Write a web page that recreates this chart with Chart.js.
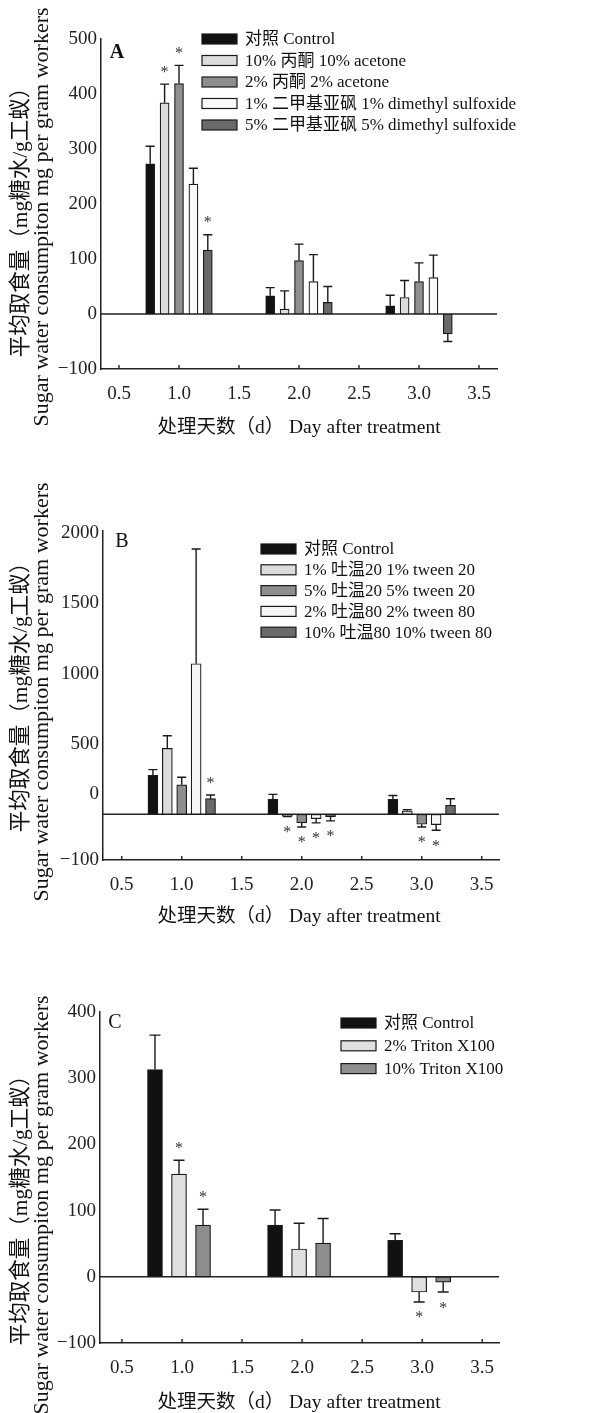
<!DOCTYPE html>
<html>
<head>
<meta charset="utf-8">
<script src="https://cdn.jsdelivr.net/npm/chart.js@4.4.0/dist/chart.umd.min.js"></script>
<style>
body{margin:0;background:#fff}
#wrap{position:relative;width:604px;height:1413px;background:#fff}
canvas{position:absolute;left:0}
</style>
</head>
<body>
<div id="wrap">
<canvas id="chartA" width="604" height="460" style="top:0"></canvas>
<canvas id="chartB" width="604" height="470" style="top:470px"></canvas>
<canvas id="chartC" width="604" height="463" style="top:950px"></canvas>
</div>
<script>
var days = [1, 2, 3];
var xTickVals = [0.5, 1, 1.5, 2, 2.5, 3, 3.5];
var xTickLabels = ['0.5', '1.0', '1.5', '2.0', '2.5', '3.0', '3.5'];
var yTitle = ['平均取食量（mg糖水/g工蚁）', 'Sugar water consumpiton mg per gram workers'];
var xTitle = '处理天数（d） Day after treatment';

// A - acetone / DMSO
var namesA = ['对照 Control', '10% 丙酮 10% acetone', '2% 丙酮 2% acetone', '1% 二甲基亚砜 1% dimethyl sulfoxide', '5% 二甲基亚砜 5% dimethyl sulfoxide'];
var ctrlA = [273, 33, 15],   errCtrlA = [32, 15, 19];
var acet10A = [384, 9, 30],  errAcet10A = [34, 33, 31];
var acet2A = [419, 97, 59],  errAcet2A = [33, 30, 34];
var dmso1A = [236, 59, 66],  errDmso1A = [29, 49, 41];
var dmso5A = [116, 21, -36], errDmso5A = [28, 29, 14];
var sigA = [[0,0,0],[1,0,0],[1,0,0],[0,0,0],[1,0,0]];
var yTickValsA = [-100, 0, 100, 200, 300, 400, 500];
var yTickLabelsA = ['−100', '0', '100', '200', '300', '400', '500'];

// B - tween
var namesB = ['对照 Control', '1% 吐温20 1% tween 20', '5% 吐温20 5% tween 20', '2% 吐温80 2% tween 80', '10% 吐温80 10% tween 80'];
var ctrlB = [278, 106, 106],   errCtrlB = [40, 36, 28];
var tw20aB = [469, -14, 25],   errTw20aB = [90, 2, 8];
var tw20bB = [210, -61, -71],  errTw20bB = [54, 29, 19];
var tw80aB = [1071, -31, -73], errTw80aB = [816, 30, 40];
var tw80bB = [111, -19, 64],   errTw80bB = [26, 28, 47];
var sigB = [[0,0,0],[0,1,0],[0,1,1],[0,1,1],[1,1,0]];
var yTickValsB = [-325, 146, 500, 1000, 1500, 2000];
var yTickLabelsB = ['−100', '0', '500', '1000', '1500', '2000'];

// C - triton
var namesC = ['对照 Control', '2% Triton X100', '10% Triton X100'];
var ctrlC = [313, 78, 55],    errCtrlC = [52, 23, 10];
var tri2C = [155, 42, -23],   errTri2C = [21, 39, 15];
var tri10C = [78, 51, -8],    errTri10C = [24, 37, 15];
var sigC = [[0,0,0],[1,0,1],[1,0,1]];
var yTickValsC = [-100, 0, 100, 200, 300, 400];
var yTickLabelsC = ['−100', '0', '100', '200', '300', '400'];

var serif = "'Liberation Serif', 'Noto Sans CJK SC', serif";

function makePanel(id, names, vals, errs, sigs, colors, offs, yVals, yLabels, lay) {
    var datasets = names.map(function(n, i) {
        return {
            label: n,
            data: days.map(function(d, j) { return {x: d + offs[i], y: vals[i][j]}; }),
            err: errs[i],
            sig: sigs[i],
            backgroundColor: colors[i],
            borderColor: '#1a1a1a',
            borderWidth: 1.2,
            borderSkipped: false,
            grouped: false,
            barThickness: lay.bw
        };
    });

    var decor = {
        id: 'decor' + id,
        beforeDatasetsDraw: function(chart) {
            var c = chart.ctx, a = chart.chartArea;
            var y0 = chart.scales.y.getPixelForValue(0);
            c.save();
            c.strokeStyle = '#222';
            c.lineWidth = 1.4;
            c.beginPath();
            c.moveTo(a.left, y0); c.lineTo(a.right, y0);
            xTickVals.forEach(function(v) {
                var px = chart.scales.x.getPixelForValue(v);
                c.moveTo(px, a.bottom); c.lineTo(px, a.bottom - 4);
            });
            c.stroke();
            c.restore();
        },
        afterDatasetsDraw: function(chart) {
            var c = chart.ctx, ys = chart.scales.y;
            c.save();
            c.strokeStyle = '#1a1a1a';
            c.lineWidth = 1.4;
            c.fillStyle = '#3a3328';
            c.font = '16px ' + serif;
            c.textAlign = 'center';
            chart.data.datasets.forEach(function(ds, i) {
                chart.getDatasetMeta(i).data.forEach(function(bar, j) {
                    var v = ds.data[j].y, e = ds.err[j];
                    var tip = ys.getPixelForValue(v >= 0 ? v + e : v - e);
                    c.beginPath();
                    c.moveTo(bar.x, bar.y); c.lineTo(bar.x, tip);
                    c.moveTo(bar.x - lay.cap / 2, tip); c.lineTo(bar.x + lay.cap / 2, tip);
                    c.stroke();
                    if (ds.sig[j]) {
                        var cy = v >= 0 ? tip - 16 : tip + 12;
                        c.fillText('*', bar.x, cy + 8.5);
                    }
                });
            });
            c.restore();
        },
        afterDraw: function(chart) {
            var c = chart.ctx;
            c.save();
            // legend
            c.font = lay.legFont + 'px ' + serif;
            c.textBaseline = 'middle';
            c.fillStyle = '#111';
            chart.data.datasets.forEach(function(ds, i) {
                var ry = lay.legY + i * lay.legH;
                c.fillStyle = ds.backgroundColor;
                c.fillRect(lay.legX, ry - 5, 35, 10);
                c.strokeStyle = '#1a1a1a';
                c.lineWidth = 1.2;
                c.strokeRect(lay.legX, ry - 5, 35, 10);
                c.fillStyle = '#111';
                c.fillText(ds.label, lay.legX + 43, ry + 1);
            });
            // panel letter
            c.font = (lay.bold ? 'bold ' : '') + '20px ' + serif;
            c.textAlign = 'center';
            c.fillText(lay.letter, lay.letX, lay.letY);
            // x title
            c.font = '19.5px ' + serif;
            c.fillText(xTitle, 299, lay.xtY);
            // y title
            c.translate(0, lay.ytY);
            c.rotate(-Math.PI / 2);
            c.font = '21.5px ' + serif;
            c.fillText(yTitle[0], 0, 21);
            c.font = '22px ' + serif;
            c.fillText(yTitle[1], 0, 42);
            c.restore();
        }
    };

    return new Chart(document.getElementById(id).getContext('2d'), {
        type: 'bar',
        data: {datasets: datasets},
        options: {
            responsive: false,
            animation: false,
            layout: {padding: {left: 0, top: lay.top, right: lay.right, bottom: 0}},
            plugins: {legend: {display: false}, tooltip: {enabled: false}},
            scales: {
                x: {
                    type: 'linear',
                    offset: false,
                    min: lay.xmin, max: lay.xmax,
                    afterBuildTicks: function(s) { s.ticks = xTickVals.map(function(v) { return {value: v}; }); },
                    afterFit: function(s) { s.height = lay.xh; },
                    ticks: {
                        autoSkip: false, maxRotation: 0, padding: 14, color: '#222',
                        font: {family: serif, size: 19},
                        callback: function(v, i) { return xTickLabels[i]; }
                    },
                    grid: {display: false, drawTicks: false},
                    border: {color: '#222', width: 1.5}
                },
                y: {
                    min: lay.ymin, max: lay.ymax,
                    afterBuildTicks: function(s) { s.ticks = yVals.map(function(v) { return {value: v}; }); },
                    afterFit: function(s) { s.width = lay.yw; },
                    ticks: {
                        padding: 4, color: '#222',
                        font: {family: serif, size: 19},
                        callback: function(v, i) { return yLabels[i]; }
                    },
                    grid: {display: false, drawTicks: false},
                    border: {color: '#222', width: 1.5}
                }
            }
        },
        plugins: [decor]
    });
}

var grp5 = [-0.24, -0.12, 0, 0.12, 0.24];
var grp3 = [-0.225, -0.025, 0.175];

makePanel('chartA', namesA,
    [ctrlA, acet10A, acet2A, dmso1A, dmso5A],
    [errCtrlA, errAcet10A, errAcet2A, errDmso1A, errDmso5A],
    sigA, ['#111111', '#dcdcdc', '#8e8e8e', '#fafafa', '#6a6a6a'], grp5,
    yTickValsA, yTickLabelsA,
    {top: 39, right: 107, xh: 91, yw: 101, xmin: 0.35, xmax: 3.65, ymin: -100, ymax: 500,
     bw: 9, cap: 9, legX: 202, legY: 39, legH: 21.5, legFont: 17,
     letter: 'A', bold: true, letX: 117, letY: 53, xtY: 428, ytY: 217});

makePanel('chartB', namesB,
    [ctrlB, tw20aB, tw20bB, tw80aB, tw80bB],
    [errCtrlB, errTw20aB, errTw20bB, errTw80aB, errTw80bB],
    sigB, ['#111111', '#dcdcdc', '#8e8e8e', '#f6f6f6', '#6a6a6a'], grp5,
    yTickValsB, yTickLabelsB,
    {top: 61, right: 105, xh: 80, yw: 103, xmin: 0.344, xmax: 3.644, ymin: -325, ymax: 2015,
     bw: 10, cap: 9, legX: 261, legY: 79, legH: 20.8, legFont: 17,
     letter: 'B', bold: false, letX: 122, letY: 72, xtY: 447, ytY: 222});

makePanel('chartC', namesC,
    [ctrlC, tri2C, tri10C],
    [errCtrlC, errTri2C, errTri10C],
    sigC, ['#111111', '#e0e0e0', '#8e8e8e'], grp3,
    yTickValsC, yTickLabelsC,
    {top: 62, right: 105, xh: 70, yw: 100, xmin: 0.317, xmax: 3.64, ymin: -100, ymax: 400,
     bw: 15, cap: 11, legX: 341, legY: 73, legH: 22.8, legFont: 17,
     letter: 'C', bold: false, letX: 115, letY: 73, xtY: 453, ytY: 255});
</script>
</body>
</html>
